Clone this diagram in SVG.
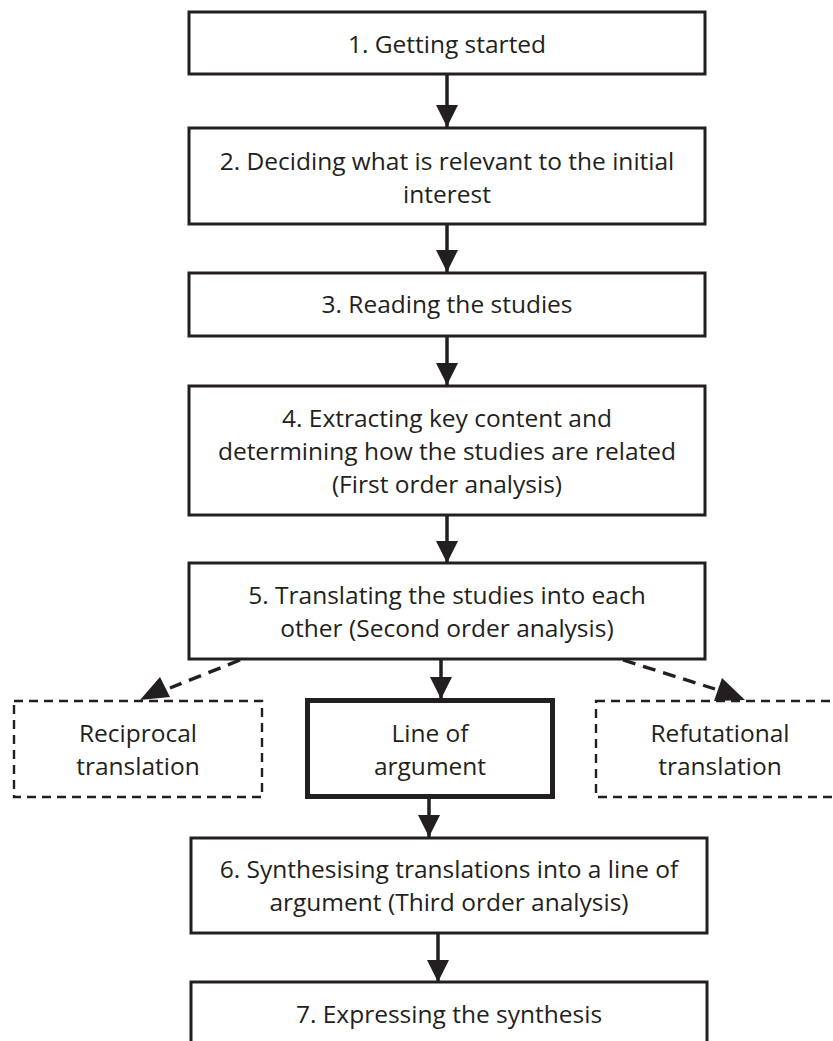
<svg xmlns="http://www.w3.org/2000/svg" width="833" height="1041" viewBox="0 0 833 1041">
<style>
.box{fill:#fff;stroke:#231f20;stroke-width:3}
.dbox{fill:#fff;stroke:#231f20;stroke-width:2.4;stroke-dasharray:9,6}
.thick{fill:#fff;stroke:#231f20;stroke-width:5}
text{font-family:"Open Sans","Noto Sans",sans-serif;font-size:24.5px;fill:#231f20;text-anchor:middle}
.conn{stroke:#231f20;stroke-width:3.5;fill:none}
.dconn{stroke:#231f20;stroke-width:3.4;fill:none;stroke-dasharray:13,8}
</style>
<defs>
<marker id="ah" viewBox="0 0 10 10" refX="10" refY="5" markerWidth="6.4" markerHeight="6.4" markerUnits="strokeWidth" orient="auto">
<path d="M0,0 L10,5 L0,10 z" fill="#231f20"/>
</marker>
</defs>
<rect width="833" height="1041" fill="#fff"/>
<g id="connectors">
<line class="conn" x1="447" y1="74" x2="447" y2="127" marker-end="url(#ah)"/>
<line class="conn" x1="447" y1="224" x2="447" y2="272" marker-end="url(#ah)"/>
<line class="conn" x1="447" y1="336" x2="447" y2="385" marker-end="url(#ah)"/>
<line class="conn" x1="447" y1="515" x2="447" y2="563" marker-end="url(#ah)"/>
<line class="conn" x1="441" y1="660" x2="441" y2="699" marker-end="url(#ah)"/>
<line class="conn" x1="429" y1="799" x2="429" y2="837" marker-end="url(#ah)"/>
<line class="conn" x1="438" y1="933" x2="438" y2="982" marker-end="url(#ah)"/>
<path class="dconn" d="M240,660 L170,688"/>
<path d="M140,700 L160,677 L170,697 z" fill="#231f20"/>
<path class="dconn" d="M623,660 L715,689"/>
<path d="M745,700 L714,701 L722,678 z" fill="#231f20"/>
</g>
<g id="n1"><rect class="box" x="189" y="12" width="516" height="62"/><text x="447" y="53">1. Getting started</text></g>
<g id="n2"><rect class="box" x="189" y="128" width="516" height="96"/><text x="447" y="170">2. Deciding what is relevant to the initial</text><text x="447" y="203">interest</text></g>
<g id="n3"><rect class="box" x="189" y="273" width="516" height="63"/><text x="447" y="313">3. Reading the studies</text></g>
<g id="n4"><rect class="box" x="189" y="386" width="516" height="129"/><text x="447" y="427">4. Extracting key content and</text><text x="447" y="460">determining how the studies are related</text><text x="447" y="493">(First order analysis)</text></g>
<g id="n5"><rect class="box" x="189" y="563" width="516" height="96"/><text x="447" y="604">5. Translating the studies into each</text><text x="447" y="637">other (Second order analysis)</text></g>
<g id="n-reciprocal"><rect class="dbox" x="14" y="701" width="248" height="96"/><text x="138" y="742">Reciprocal</text><text x="138" y="775">translation</text></g>
<g id="n-line"><rect class="thick" x="307.5" y="700.5" width="245" height="96"/><text x="430" y="742">Line of</text><text x="430" y="775">argument</text></g>
<g id="n-refutational"><rect class="dbox" x="596" y="701" width="250" height="96"/><text x="720" y="742">Refutational</text><text x="720" y="775">translation</text></g>
<g id="n6"><rect class="box" x="191" y="838" width="516" height="95"/><text x="449" y="878">6. Synthesising translations into a line of</text><text x="449" y="911">argument (Third order analysis)</text></g>
<g id="n7"><rect class="box" x="191" y="982" width="516" height="70"/><text x="449" y="1023">7. Expressing the synthesis</text></g>
</svg>
